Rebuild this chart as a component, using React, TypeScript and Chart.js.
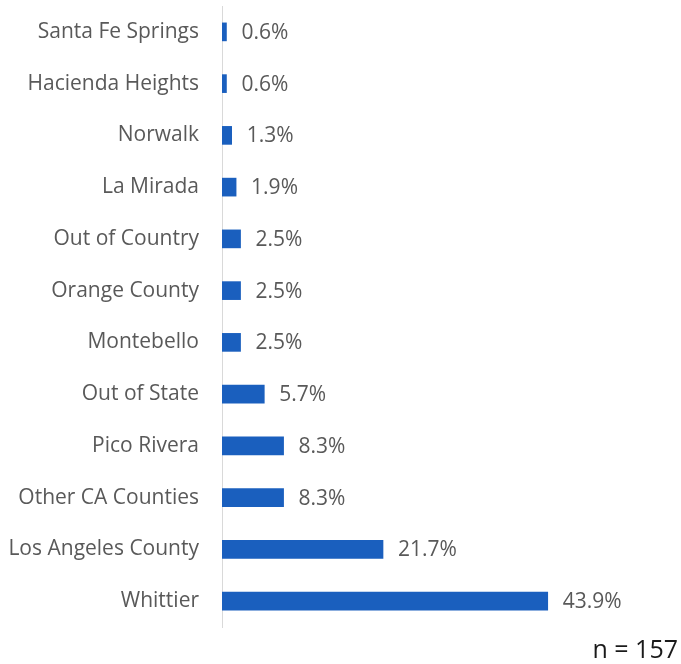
import React, { useEffect, useRef } from "react";
import { Chart, registerables } from "chart.js";

Chart.register(...registerables);

const categories = [
  "Santa Fe Springs",
  "Hacienda Heights",
  "Norwalk",
  "La Mirada",
  "Out of Country",
  "Orange County",
  "Montebello",
  "Out of State",
  "Pico Rivera",
  "Other CA Counties",
  "Los Angeles County",
  "Whittier",
];
const values = [0.6, 0.6, 1.3, 1.9, 2.5, 2.5, 2.5, 5.7, 8.3, 8.3, 21.7, 43.9];
const noteText = "n = 157";

const FONT = "'Open Sans', Lato, sans-serif";

export default function App() {
  const ref = useRef<HTMLCanvasElement | null>(null);
  useEffect(() => {
    document.body.style.margin = "0";
    const canvas = ref.current;
    if (!canvas) return;
    const labelPlugin = {
      id: "labels",
      afterDatasetsDraw(chart: any) {
        const ctx = chart.ctx;
        const meta = chart.getDatasetMeta(0);
        ctx.save();
        ctx.font = `21px ${FONT}`;
        ctx.fillStyle = "#595959";
        ctx.textAlign = "left";
        ctx.textBaseline = "middle";
        meta.data.forEach((bar: any, i: number) => {
          ctx.fillText(values[i].toFixed(1) + "%", bar.x + 15, bar.y + 1);
        });
        ctx.font = `25px ${FONT}`;
        ctx.fillStyle = "#1a1a1a";
        ctx.textAlign = "right";
        ctx.fillText(noteText, chart.width - 3, 651);
        ctx.restore();
      },
    };
    const chart = new Chart(canvas, {
      type: "bar",
      data: {
        labels: categories,
        datasets: [
          {
            data: values,
            backgroundColor: "#1a5fbe",
            borderWidth: 0,
            barThickness: 18,
          },
        ],
      },
      options: {
        indexAxis: "y",
        animation: false,
        responsive: false,
        maintainAspectRatio: false,
        layout: { padding: { top: 6, bottom: 37, left: 0, right: 88 } },
        plugins: { legend: { display: false }, tooltip: { enabled: false } },
        scales: {
          x: {
            display: false,
            min: 0,
            max: 50,
          },
          y: {
            afterFit(scale: any) {
              scale.width = 222;
              scale.paddingTop = 0;
              scale.paddingBottom = 0;
            },
            grid: { display: true, drawOnChartArea: false, drawTicks: false },
            border: { display: true, color: "#d9d9d9", width: 1 },
            ticks: {
              padding: 23,
              color: "#595959",
              font: { family: FONT, size: 21 },
            },
          },
        },
      },
      plugins: [labelPlugin],
    });
    return () => chart.destroy();
  }, []);
  return (
    <div style={{ width: 681, height: 664 }}>
      <canvas ref={ref} width={681} height={664} style={{ display: "block" }} />
    </div>
  );
}
